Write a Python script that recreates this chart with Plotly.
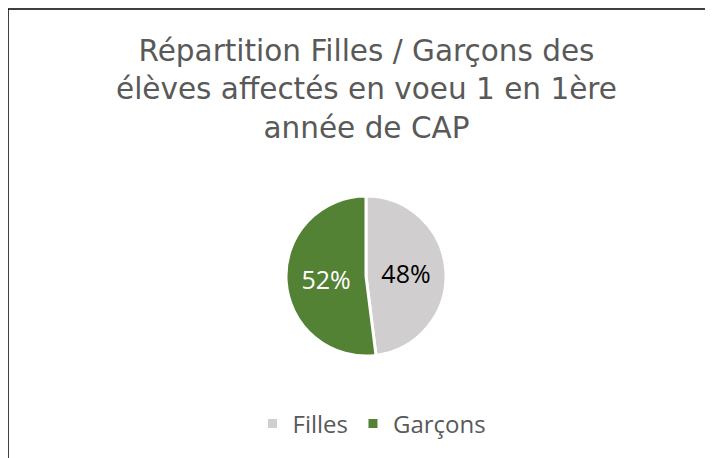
import plotly.graph_objects as go

labels = ["Filles", "Garçons"]
values = [48, 52]
colors = ["#d0cece", "#548235"]
text_colors = ["#000000", "#ffffff"]
title_lines = ["Répartition Filles / Garçons des",
               "élèves affectés en voeu 1 en 1ère",
               "année de CAP"]

W, H = 713, 458
OFF = 8  # page body offset
FONT = "Open Sans"
TITLE_FONT = "DejaVu Sans"

def px(x):
    return (x - OFF) / W

def py(y):
    return 1 - (y - OFF) / H

fig = go.Figure(go.Pie(
    labels=labels, values=values, sort=False, direction="clockwise", rotation=0,
    marker=dict(colors=colors, line=dict(color="#ffffff", width=3)),
    textinfo="percent", textposition="inside",
    insidetextfont=dict(color=text_colors, size=25, family=FONT),
    texttemplate="%{percent:.0%}",
    domain=dict(x=[px(286), px(446)], y=[py(356), py(196)]),
    hoverinfo="label+percent",
))

fig.add_annotation(text="<br>".join(title_lines), x=px(366), y=py(89), xref="paper", yref="paper",
                   xanchor="center", yanchor="middle", showarrow=False, align="center",
                   font=dict(size=29.5, color="#595959", family=TITLE_FONT))

fig.add_shape(type="line", xref="paper", yref="paper", x0=px(7.5), x1=1.02, y0=py(9), y1=py(9),
              line=dict(color="#000000", width=1.5))
fig.add_shape(type="line", xref="paper", yref="paper", x0=px(8), x1=px(8), y0=py(9), y1=-0.05,
              line=dict(color="#000000", width=1.5))

fig.update_layout(
    width=W, height=H, margin=dict(l=0, r=0, t=0, b=0),
    paper_bgcolor="#ffffff", plot_bgcolor="#ffffff",
    font=dict(family=FONT, color="#595959"),
    legend=dict(orientation="h", x=px(372), xanchor="center", y=py(424), yanchor="middle",
                font=dict(size=24, color="#595959", family=FONT), itemwidth=30),
    showlegend=True,
)

fig.write_html("out.html")
